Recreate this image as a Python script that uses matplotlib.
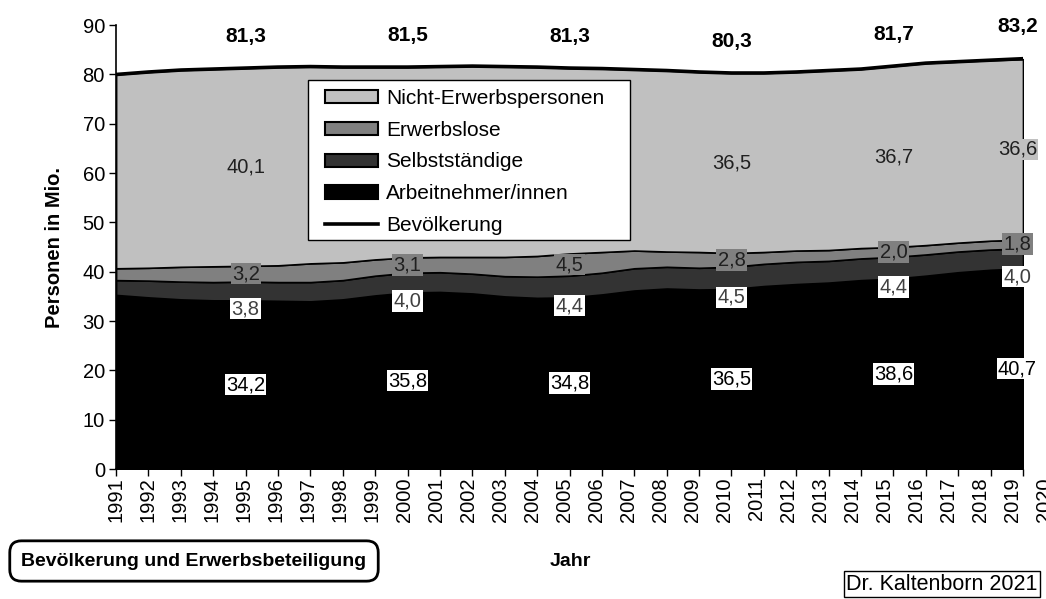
import matplotlib
matplotlib.use("Agg")
import matplotlib.pyplot as plt
from matplotlib.patches import Patch, Rectangle
from matplotlib.lines import Line2D

plt.rcParams['font.family'] = ['Liberation Sans', 'DejaVu Sans']

years = list(range(1991, 2020))
year_labels = [str(y) for y in range(1991, 2021)]

# Mio. Personen
bevoelkerung = [80.0, 80.5, 80.9, 81.1, 81.3, 81.5, 81.6, 81.5, 81.5, 81.5,
                81.6, 81.7, 81.6, 81.5, 81.3, 81.2, 81.0, 80.8, 80.5, 80.3,
                80.3, 80.5, 80.8, 81.1, 81.7, 82.3, 82.6, 82.9, 83.2]
arbeitnehmer = [35.3, 34.8, 34.4, 34.2, 34.2, 34.1, 34.0, 34.4, 35.2, 35.8,
                35.9, 35.6, 35.0, 34.7, 34.8, 35.4, 36.2, 36.6, 36.4, 36.5,
                37.1, 37.5, 37.8, 38.3, 38.6, 39.2, 39.9, 40.4, 40.7]
selbststaendige = [3.0, 3.4, 3.6, 3.7, 3.8, 3.8, 3.9, 3.9, 4.0, 4.0,
                   4.0, 4.0, 4.1, 4.3, 4.4, 4.4, 4.5, 4.4, 4.4, 4.5,
                   4.5, 4.5, 4.4, 4.4, 4.4, 4.3, 4.2, 4.1, 4.0]
erwerbslose = [2.4, 2.6, 3.0, 3.2, 3.2, 3.4, 3.8, 3.6, 3.3, 3.1,
               3.1, 3.4, 3.9, 4.2, 4.5, 4.2, 3.6, 3.1, 3.2, 2.8,
               2.4, 2.3, 2.2, 2.1, 2.0, 1.9, 1.8, 1.8, 1.8]
nicht_erwerb = [39.3, 39.7, 39.9, 40.0, 40.1, 40.2, 39.9, 39.6, 39.0, 38.6,
                38.6, 38.7, 38.6, 38.3, 37.6, 37.2, 36.7, 36.7, 36.5, 36.5,
                36.3, 36.2, 36.4, 36.3, 36.7, 36.9, 36.7, 36.6, 36.6]

label_idx = [4, 9, 14, 19, 24, 28]
c_nicht, c_erw, c_selb, c_arb = '#c0c0c0', '#808080', '#333333', '#000000'
FS = 14.5

fig = plt.figure(figsize=(10.46, 5.99), dpi=100)
ax = fig.add_axes([0.111, 0.217, 0.867, 0.741])

polys = ax.stackplot(years, arbeitnehmer, selbststaendige, erwerbslose, nicht_erwerb,
                     colors=[c_arb, c_selb, c_erw, c_nicht],
                     edgecolor='black', linewidth=1.2)
ax.plot(years, bevoelkerung, color='black', linewidth=2.6, zorder=5)

ax.set_xlim(1991, 2019)
ax.set_ylim(0, 90)
ax.set_yticks(range(0, 91, 10))
ax.set_xticks(years)
ax.set_xticklabels([])
ax.tick_params(axis='both', direction='out', length=5, width=1, labelsize=FS, pad=3)

# Excel-style category labels (slightly tighter spacing than the ticks, 2020 runs off the edge)
for i, lab in enumerate(year_labels):
    ax.annotate(lab, xy=(1991 + i * 0.988, 0), xycoords=('data', 'axes fraction'),
                xytext=(0, -6), textcoords='offset points', rotation=90,
                ha='center', va='top', fontsize=FS, annotation_clip=False)

for s in ['top', 'right']:
    ax.spines[s].set_visible(False)
ax.spines['left'].set_linewidth(1.2)
ax.spines['bottom'].set_linewidth(1.2)


def fmt(v):
    return f"{v:.1f}".replace('.', ',')


# data labels
for i in label_idx:
    x = years[i]
    dx = -4 if i == len(years) - 1 else 0
    a, s, e, n = arbeitnehmer[i], selbststaendige[i], erwerbslose[i], nicht_erwerb[i]
    ax.annotate(fmt(bevoelkerung[i]), xy=(x, bevoelkerung[i]), xytext=(dx, 23),
                textcoords='offset points', ha='center', va='center',
                fontsize=15, fontweight='bold', annotation_clip=False, zorder=6)
    ax.annotate(fmt(a), xy=(x, a / 2), xytext=(dx, 0), textcoords='offset points',
                ha='center', va='center', fontsize=FS, color='black',
                bbox=dict(boxstyle='square,pad=0.06', fc='white', ec='none'), zorder=6)
    ax.annotate(fmt(s), xy=(x, a), xytext=(dx, -6), textcoords='offset points',
                ha='center', va='center', fontsize=FS, color='#404040',
                bbox=dict(boxstyle='square,pad=0.06', fc='white', ec='none'), zorder=6)
    ax.annotate(fmt(e), xy=(x, a + s + e / 2), xytext=(dx, 0), textcoords='offset points',
                ha='center', va='center', fontsize=FS, color='#202020',
                bbox=dict(boxstyle='square,pad=0.06', fc=c_erw, ec='none'), zorder=6)
    ax.annotate(fmt(n), xy=(x, a + s + e + n / 2), xytext=(dx, 0), textcoords='offset points',
                ha='center', va='center', fontsize=FS, color='#202020',
                bbox=dict(boxstyle='square,pad=0.06', fc=c_nicht, ec='none'),
                annotation_clip=False, zorder=6)

# legend: frame drawn separately so the padding can match the original box
ax.add_patch(Rectangle((0.2117, 0.5158), 0.355, 0.3604, transform=ax.transAxes,
                       fc='white', ec='black', lw=1, zorder=9))
handles = [Patch(fc=c_nicht, ec='black', lw=1.5),
           Patch(fc=c_erw, ec='black', lw=1.5),
           Patch(fc=c_selb, ec='black', lw=1.5),
           Patch(fc=c_arb, ec='black', lw=1.5),
           Line2D([0], [0], color='black', lw=2.6)]
labels = ['Nicht-Erwerbspersonen', 'Erwerbslose', 'Selbstständige',
          'Arbeitnehmer/innen', 'Bevölkerung']
leg = ax.legend(handles, labels, loc='upper left', bbox_to_anchor=(0.2304, 0.857),
                borderaxespad=0, fontsize=15, frameon=False, labelspacing=0.62,
                handlelength=2.55, handleheight=0.6, handletextpad=0.38, borderpad=0)
leg.set_zorder(10)

ax.set_ylabel('Personen in Mio.', fontsize=FS, fontweight='bold')
ax.yaxis.set_label_coords(-0.0575, 0.5)
fig.text(570 / 1046, 1 - 561 / 599, 'Jahr', ha='center', va='center',
         fontsize=FS - 0.5, fontweight='bold')
fig.text(194 / 1046, 1 - 561 / 599, 'Bevölkerung und Erwerbsbeteiligung',
         ha='center', va='center', fontsize=14, fontweight='bold',
         bbox=dict(boxstyle='round,pad=0.6,rounding_size=0.6', fc='white',
                   ec='black', lw=2))
fig.text(942 / 1046, 1 - 584 / 599, 'Dr. Kaltenborn 2021', ha='center', va='center',
         fontsize=15.5, bbox=dict(boxstyle='square,pad=0.12', fc='white',
                                  ec='black', lw=1))

fig.savefig('out.png', dpi=100)
